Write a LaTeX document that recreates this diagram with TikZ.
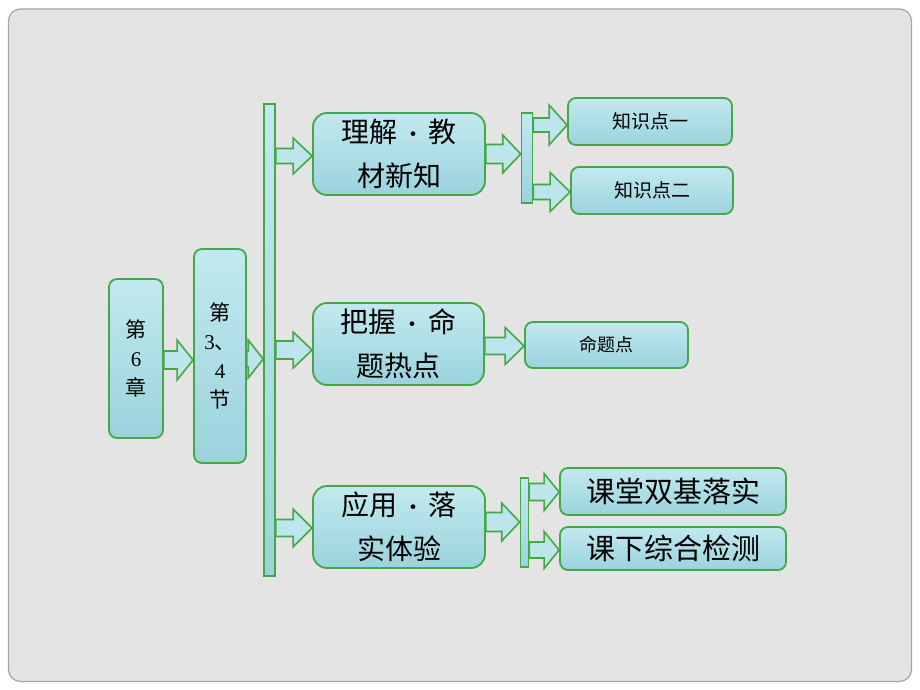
\documentclass[tikz,border=0pt]{standalone}
\usepackage{fontspec}
\setmainfont{Liberation Serif}
\newfontfamily\cjk{Noto Sans CJK SC}
\usetikzlibrary{calc}
\definecolor{bggray}{HTML}{E4E4E4}
\definecolor{framegray}{HTML}{A6A6A6}
\definecolor{aquaL}{HTML}{C2E9EF}
\definecolor{aquaD}{HTML}{9AD3DD}
\definecolor{boxgreen}{HTML}{45A845}
\tikzset{
  tbox/.style={draw=boxgreen, line width=1.8pt, rounded corners=#1, top color=aquaL, bottom color=aquaD, inner sep=0pt, align=center, font=\cjk},
  tbox/.default=8pt,
  vbar/.style={draw=boxgreen, line width=1.6pt, top color=aquaL, bottom color=aquaD, inner sep=0pt},
  blk/.style={draw=boxgreen, line width=1.6pt, fill=aquaL!85!aquaD, line join=miter},
}
% #1 from node, #2 to node, #3 y, #4 head length, #5 shaft half, #6 head half
\newcommand{\blockarr}[6]{%
  \path (0,#3) coordinate (yy);
  \draw[blk] let \p1=(#1.east |- yy), \p2=(#2.west |- yy) in
    (\x1,\y1+#5pt) -- (\x2-#4pt,\y1+#5pt) -- (\x2-#4pt,\y1+#6pt) -- (\x2,\y1)
    -- (\x2-#4pt,\y1-#6pt) -- (\x2-#4pt,\y1-#5pt) -- (\x1,\y1-#5pt) -- cycle;
}
\newcommand{\mdot}{\,{\fontsize{22}{22}\selectfont •}\,}
\begin{document}
\begin{tikzpicture}[x=1pt,y=-1pt]
\useasboundingbox (0,0) rectangle (920,690);
\fill[white] (0,0) rectangle (920,690);
\draw[framegray, line width=1.2pt, fill=bggray, rounded corners=12pt] (8.5,9) rectangle (911.5,681.5);

% boxes
\node[tbox, minimum width=54pt, minimum height=159pt, font=\fontsize{21}{29}\selectfont] (ch) at (136,358.5) {{\cjk 第}\\6\\{\cjk 章}};
\node[tbox, minimum width=52pt, minimum height=214pt, font=\fontsize{21}{29}\selectfont] (sec) at (220,356) {{\cjk 第}\\3{\cjk 、}\\4\\{\cjk 节}};
\node[vbar, minimum width=11pt, minimum height=472pt] (bar) at (269.5,340) {};

\node[tbox=14pt, minimum width=172pt, minimum height=82pt, font=\cjk\fontsize{28}{44}\selectfont] (b1) at (399,154) {理解\mdot 教\\材新知};
\node[tbox=14pt, minimum width=171pt, minimum height=82pt, font=\cjk\fontsize{28}{44}\selectfont] (b2) at (398.5,344) {把握\mdot 命\\题热点};
\node[tbox=14pt, minimum width=172pt, minimum height=82pt, font=\cjk\fontsize{28}{44}\selectfont] (b3) at (399,527) {应用\mdot 落\\实体验};

\node[vbar, minimum width=11pt, minimum height=90pt] (sb1) at (527,158) {};
\node[vbar, minimum width=8pt, minimum height=89pt] (sb2) at (524.5,522.5) {};

\node[tbox, minimum width=164pt, minimum height=47pt, font=\cjk\fontsize{19}{22}\selectfont] (k1) at (650,121.5) {知识点一};
\node[tbox, minimum width=162pt, minimum height=47pt, font=\cjk\fontsize{19}{22}\selectfont] (k2) at (652,190.5) {知识点二};
\node[tbox, minimum width=163pt, minimum height=46pt, font=\cjk\fontsize{18}{22}\selectfont] (mt) at (606.5,345) {命题点};
\node[tbox, minimum width=226pt, minimum height=47pt, font=\cjk\fontsize{29}{32}\selectfont] (c1) at (673,491.5) {课堂双基落实};
\node[tbox, minimum width=226pt, minimum height=43pt, font=\cjk\fontsize{29}{32}\selectfont] (c2) at (673,548.5) {课下综合检测};

% block arrows
\blockarr{ch}{sec}{360}{16}{9}{20}
\blockarr{sec}{bar}{359}{15}{8}{19}
\blockarr{bar}{b1}{156}{19}{7.5}{18}
\blockarr{bar}{b2}{350}{19}{9}{18}
\blockarr{bar}{b3}{528}{19}{8.5}{19}
\blockarr{b1}{sb1}{154}{18}{9.5}{19}
\blockarr{sb1}{k1}{125}{18}{7}{20}
\blockarr{sb1}{k2}{192}{20}{7.5}{19.5}
\blockarr{b2}{mt}{346}{19}{8.5}{18.5}
\blockarr{b3}{sb2}{522}{18}{9.5}{19}
\blockarr{sb2}{c1}{492}{15}{8.5}{18.5}
\blockarr{sb2}{c2}{550}{15}{8}{18.5}
\end{tikzpicture}
\end{document}
